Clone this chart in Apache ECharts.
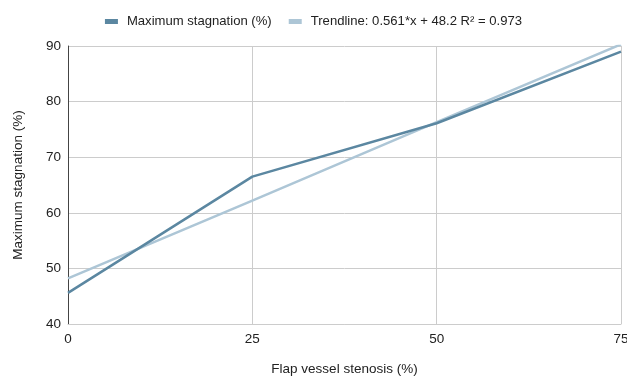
<!DOCTYPE html>
<html><head><meta charset="utf-8">
<script src="https://cdn.jsdelivr.net/npm/echarts@6/dist/echarts.min.js"></script>
<style>html,body{margin:0;padding:0;background:#fff}#c{width:627px;height:377px}</style>
</head><body><div id="c"></div>
<script>
const xValues = [0, 25, 50, 75];
const stagnation = [45.6, 66.5, 76.1, 89.0];
const trendline = [48.2, 62.2, 76.3, 90.3];
const seriesNames = ['Maximum stagnation (%)', 'Trendline: 0.561*x + 48.2 R² = 0.973'];

const chart = echarts.init(document.getElementById('c'));
const font = 'Liberation Sans, Arial, sans-serif';
chart.setOption({
  animation: false,
  textStyle: {fontFamily: font},
  legend: {
    top: 10, left: 'center', itemGap: 17,
    icon: 'rect', itemWidth: 13, itemHeight: 5,
    textStyle: {fontSize: 13.1, color: '#222', fontFamily: font, padding: [0, 0, 0, 4]},
    data: seriesNames
  },
  grid: {left: 68, right: 6, top: 46, bottom: 53, outerBoundsMode: 'none', containLabel: false},
  xAxis: {
    type: 'value', min: 0, max: 75, interval: 25,
    name: 'Flap vessel stenosis (%)', nameLocation: 'middle', nameGap: 38,
    nameTextStyle: {fontSize: 13.5, color: '#222'},
    axisLine: {show: true, lineStyle: {color: '#ccc'}},
    axisTick: {show: false},
    axisLabel: {fontSize: 13.5, color: '#222', margin: 8},
    splitLine: {show: true, lineStyle: {color: '#ccc'}}
  },
  yAxis: {
    type: 'value', min: 40, max: 90, interval: 10,
    name: 'Maximum stagnation (%)', nameLocation: 'middle', nameGap: 43,
    nameTextStyle: {fontSize: 13.5, color: '#222'},
    axisLine: {show: true, lineStyle: {color: '#444'}},
    axisTick: {show: false},
    axisLabel: {fontSize: 13.5, color: '#222', margin: 7},
    splitLine: {show: true, lineStyle: {color: '#ccc'}}
  },
  series: [
    {name: seriesNames[0], type: 'line', data: xValues.map((x,i)=>[x, stagnation[i]]),
     showSymbol: false, lineStyle: {width: 2.5, color: '#5b87a1'}, itemStyle: {color: '#5b87a1'}, z: 3},
    {name: seriesNames[1], type: 'line', data: xValues.map((x,i)=>[x, trendline[i]]),
     showSymbol: false, lineStyle: {width: 2.5, color: '#adc6d6'}, itemStyle: {color: '#adc6d6'}, z: 2}
  ]
});
</script></body></html>
